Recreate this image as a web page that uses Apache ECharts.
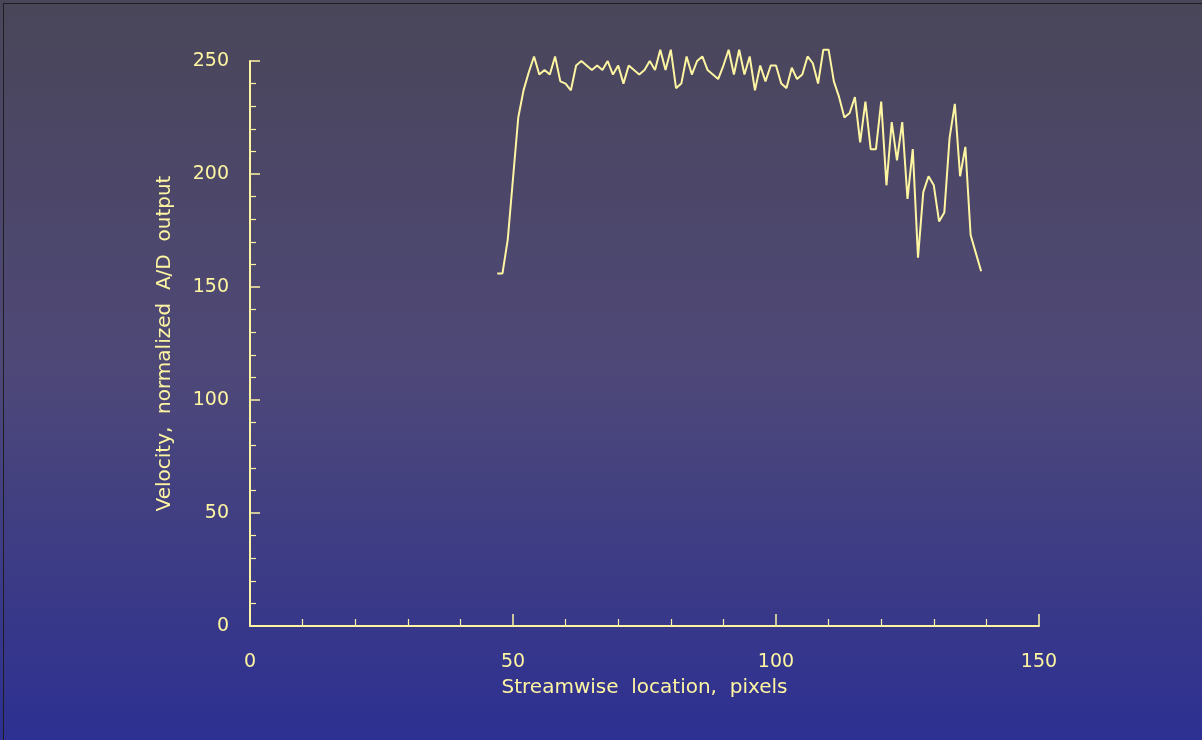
<!DOCTYPE html>
<html>
<head>
<meta charset="utf-8">
<script src="https://cdn.jsdelivr.net/npm/echarts@6/dist/echarts.min.js"></script>
<style>
html,body{margin:0;padding:0;background:#cfcfcf;}
#chart{width:1202px;height:740px;}
</style>
</head>
<body>
<div id="chart"></div>
<script>
// Streamwise location (pixels) and velocity (normalized A/D output)
const xValues = [47,48,49,50,51,52,53,54,55,56,57,58,59,60,61,62,63,64,65,66,67,68,69,70,71,72,73,74,75,76,77,78,79,80,81,82,83,84,85,86,87,88,89,90,91,92,93,94,95,96,97,98,99,100,101,102,103,104,105,106,107,108,109,110,111,112,113,114,115,116,117,118,119,120,121,122,123,124,125,126,127,128,129,130,131,132,133,134,135,136,137,138,139];
const velocity = [156,156,171,198,225,237,245,252,244,246,244,252,241,240,237,248,250,248,246,248,246,250,244,248,240,248,246,244,246,250,246,255,246,255,238,240,252,244,250,252,246,244,242,248,255,244,255,244,252,237,248,241,248,248,240,238,247,242,244,252,249,240,255,255,241,234,225,227,234,214,232,211,211,232,195,223,206,223,189,211,163,192,199,195,179,183,216,231,199,212,173,165,157];
const xTitle = 'Streamwise  location,  pixels';
const yTitle = 'Velocity,  normalized  A/D  output';

const fg = '#fdf5a2';
const font = 'DejaVu Sans, Liberation Sans, Arial';
const data = xValues.map((x, i) => [x, velocity[i]]);

const chart = echarts.init(document.getElementById('chart'));
chart.setOption({
  backgroundColor: {
    type: 'linear', x: 0, y: 0, x2: 0, y2: 1,
    colorStops: [
      {offset: 0, color: '#4a4659'},
      {offset: 0.5, color: '#4e4878'},
      {offset: 1, color: '#2d3092'}
    ]
  },
  animation: false,
  graphic: [
    {type: 'line', shape: {x1: 3.5, y1: 3, x2: 3.5, y2: 740}, style: {stroke: '#1e1e24', lineWidth: 1}},
    {type: 'line', shape: {x1: 3, y1: 3.5, x2: 1202, y2: 3.5}, style: {stroke: '#1e1e24', lineWidth: 1}}
  ],
  grid: {left: 250, right: 163, top: 61, bottom: 114},
  xAxis: {
    type: 'value', min: 0, max: 150, interval: 50,
    name: xTitle, nameLocation: 'middle', nameGap: 52,
    nameTextStyle: {color: fg, fontSize: 20, fontFamily: font},
    axisLine: {show: true, lineStyle: {color: fg, width: 2}},
    axisTick: {show: true, inside: true, length: 12, lineStyle: {color: fg, width: 1.5}},
    minorTick: {show: true, splitNumber: 5, length: 7, lineStyle: {color: fg, width: 1.2}},
    axisLabel: {color: fg, fontSize: 19, margin: 27, fontFamily: font},
    splitLine: {show: false}
  },
  yAxis: {
    type: 'value', min: 0, max: 250, interval: 50,
    name: yTitle, nameLocation: 'middle', nameGap: 75,
    nameTextStyle: {color: fg, fontSize: 20, fontFamily: font},
    axisLine: {show: true, lineStyle: {color: fg, width: 2}},
    axisTick: {show: true, inside: true, length: 10, lineStyle: {color: fg, width: 1.5}},
    minorTick: {show: true, splitNumber: 5, length: 6, lineStyle: {color: fg, width: 1.2}},
    axisLabel: {color: fg, fontSize: 19, margin: 21, fontFamily: font},
    splitLine: {show: false}
  },
  series: [{
    type: 'line',
    data: data,
    clip: false,
    showSymbol: false,
    lineStyle: {color: fg, width: 2},
    itemStyle: {color: fg}
  }]
});
</script>
</body>
</html>
